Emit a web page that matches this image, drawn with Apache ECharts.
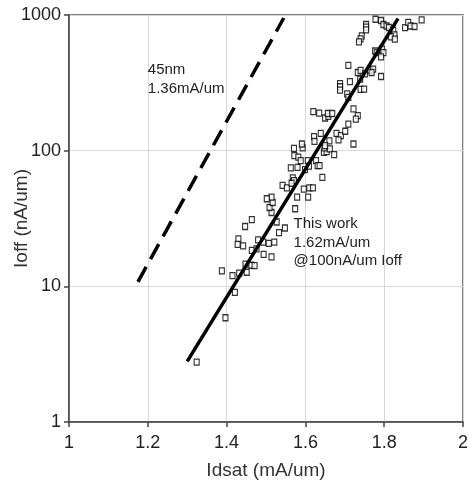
<!DOCTYPE html>
<html>
<head>
<meta charset="utf-8">
<script src="https://cdn.jsdelivr.net/npm/echarts@6/dist/echarts.min.js"></script>
<style>
  html, body { margin: 0; padding: 0; background: #fff; }
  #chart { width: 469px; height: 487px; }
</style>
</head>
<body>
<div id="chart"></div>
<script>
// measured devices: Idsat (mA/um) vs Ioff (nA/um)
var idsat = [
  1.324, 1.397, 1.421, 1.388, 1.415, 1.432, 1.451, 1.463, 1.471, 1.448,
  1.464, 1.476, 1.494, 1.514, 1.430, 1.428, 1.442, 1.480, 1.493, 1.507,
  1.521, 1.447, 1.464, 1.533, 1.548, 1.527, 1.514, 1.509, 1.517, 1.514,
  1.502, 1.574, 1.542, 1.553, 1.568, 1.571, 1.565, 1.579, 1.596, 1.610,
  1.619, 1.607, 1.643, 1.563, 1.580, 1.599, 1.572, 1.582, 1.588, 1.606,
  1.609, 1.627, 1.631, 1.636, 1.647, 1.654, 1.571, 1.593, 1.591, 1.648,
  1.662, 1.673, 1.622, 1.623, 1.639, 1.661, 1.650, 1.679, 1.690, 1.684,
  1.701, 1.709, 1.722, 1.722, 1.733, 1.728, 1.620, 1.635, 1.650, 1.658,
  1.657, 1.668, 1.688, 1.688, 1.688, 1.706, 1.709, 1.740, 1.749, 1.713,
  1.709, 1.733, 1.740, 1.751, 1.764, 1.772, 1.768, 1.792, 1.739, 1.777,
  1.781, 1.794, 1.798, 1.792, 1.743, 1.740, 1.736, 1.754, 1.754, 1.754,
  1.778, 1.792, 1.798, 1.806, 1.812, 1.823, 1.826, 1.817, 1.827, 1.853,
  1.861, 1.867, 1.877, 1.895
];
var ioff = [
  2.76, 5.87, 9.03, 13.0, 12.0, 12.5, 12.7, 14.3, 14.2, 14.6,
  18.4, 18.9, 17.2, 16.5, 22.4, 20.4, 19.9, 22.0, 21.2, 20.7,
  21.2, 27.6, 31.0, 24.9, 26.9, 29.8, 35.0, 38.1, 41.5, 45.4,
  44.2, 37.3, 55.5, 53.2, 63.0, 60.2, 57.5, 45.5, 52.1, 53.2,
  53.2, 45.5, 63.6, 74.6, 75.4, 72.5, 91.9, 89.6, 84.4, 84.4,
  76.9, 84.4, 77.6, 77.6, 97.2, 98.4, 104, 105, 112, 105,
  103, 93.5, 127, 117, 134, 118, 109, 134, 129, 120,
  139, 157, 112, 203, 181, 171, 194, 189, 174, 179,
  188, 188, 312, 296, 279, 262, 247, 283, 284, 323,
  425, 377, 391, 368, 392, 399, 377, 352, 337, 543,
  528, 560, 528, 491, 701, 666, 633, 851, 813, 778,
  930, 911, 851, 830, 809, 772, 713, 689, 663, 807,
  881, 830, 823, 922
];

// trend lines (end points)
var fitIdsat = [1.30, 1.835];
var fitIoff = [2.8, 940];
var ref45Idsat = [1.175, 1.545];
var ref45Ioff = [10.8, 950];

var xTicks = [1, 1.2, 1.4, 1.6, 1.8, 2];
var yTicks = [1, 10, 100, 1000];

var pts = idsat.map(function (v, i) { return [v, ioff[i]]; });
var fitLine = fitIdsat.map(function (v, i) { return [v, fitIoff[i]]; });
var refLine = ref45Idsat.map(function (v, i) { return [v, ref45Ioff[i]]; });

var chart = echarts.init(document.getElementById('chart'));
var font = 'Liberation Sans, Arial, sans-serif';

var option = {
  animation: false,
  backgroundColor: '#fff',
  grid: {
    left: 69, right: 6, top: 15, bottom: 65,
    containLabel: false, outerBoundsMode: 'none',
    show: true, borderColor: '#555', borderWidth: 1.5
  },
  xAxis: {
    type: 'value',
    min: xTicks[0], max: xTicks[xTicks.length - 1], interval: 0.2,
    name: 'Idsat (mA/um)',
    nameLocation: 'middle', nameGap: 39, nameMoveOverlap: false,
    nameTextStyle: { fontFamily: font, fontSize: 19, color: '#333' },
    axisLine: { lineStyle: { color: '#444', width: 1.5 } },
    axisTick: { show: true, length: 5, lineStyle: { color: '#444', width: 1.5 } },
    axisLabel: { fontFamily: font, fontSize: 18, color: '#222', margin: 12 },
    splitLine: { show: true, lineStyle: { color: '#d9d9d9', width: 1 } }
  },
  yAxis: {
    type: 'log', logBase: 10,
    min: yTicks[0], max: yTicks[yTicks.length - 1],
    name: 'Ioff (nA/um)',
    nameLocation: 'middle', nameGap: 38, nameMoveOverlap: false,
    nameTextStyle: { fontFamily: font, fontSize: 19, color: '#333' },
    axisLine: { show: true, lineStyle: { color: '#444', width: 1.5 } },
    axisTick: { show: true, length: 5, lineStyle: { color: '#444', width: 1.5 } },
    axisLabel: {
      fontFamily: font, fontSize: 18, color: '#222', margin: 8,
      formatter: function (v) { return String(Math.round(v)); }
    },
    splitLine: { show: true, lineStyle: { color: '#d9d9d9', width: 1 } },
    minorTick: { show: false }
  },
  series: [
    {
      type: 'scatter',
      data: pts,
      symbol: 'rect',
      symbolSize: [5, 6],
      itemStyle: { color: '#fff', borderColor: '#000', borderWidth: 1.2 },
      z: 2
    },
    {
      type: 'line',
      data: fitLine,
      showSymbol: false,
      lineStyle: { color: '#000', width: 3.5 },
      z: 3
    },
    {
      type: 'line',
      data: refLine,
      showSymbol: false,
      lineStyle: { color: '#000', width: 3.5, type: [17, 9], cap: 'butt' },
      z: 3
    }
  ]
};
chart.setOption(option);

// annotations anchored in data coordinates
var notes = [
  { at: [1.2, 460], text: '45nm\n1.36mA/um' },
  { at: [1.57, 33.5], text: 'This work\n1.62mA/um\n@100nA/um Ioff' }
];
chart.setOption({
  graphic: notes.map(function (n) {
    var p = chart.convertToPixel({ gridIndex: 0 }, n.at);
    return {
      type: 'text', x: p[0], y: p[1], z: 10,
      style: {
        text: n.text, fill: '#222', font: '15px ' + font,
        lineHeight: 18.5, align: 'left', verticalAlign: 'top'
      }
    };
  })
});
</script>
</body>
</html>
